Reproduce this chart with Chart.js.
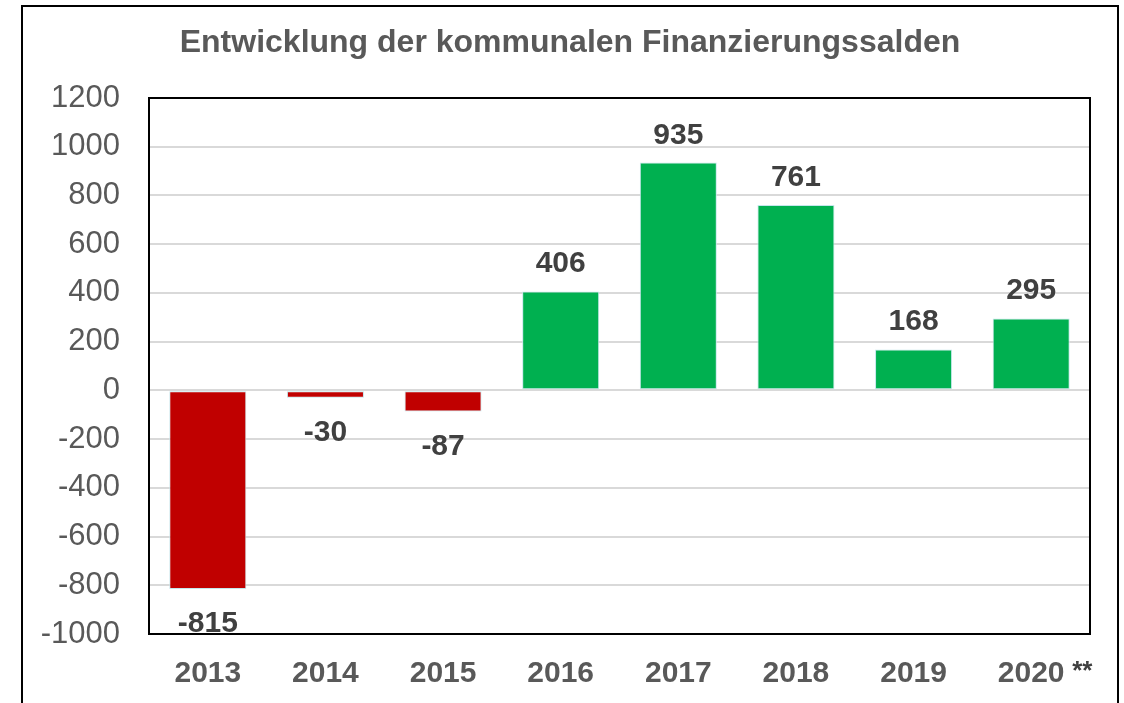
<!DOCTYPE html>
<html lang="de">
<head>
    <meta charset="UTF-8">
    <title>Entwicklung der kommunalen Finanzierungssalden</title>
    <style>
        body {
            margin: 0;
            padding: 0;
            background-color: #fff;
            overflow: hidden;
        }

        .frame {
            position: absolute;
            left: 21px;
            top: 5px;
            width: 1094px;
            height: 800px;
            border: 2px solid #000;
        }

        .chart-box {
            position: absolute;
            left: 0;
            top: 0;
            width: 1124px;
            height: 703px;
        }
    </style>
</head>
<body>
    <div class="frame"></div>
    <div class="chart-box">
        <canvas id="saldenChart" width="1124" height="703"></canvas>
    </div>
    <script src="https://cdn.jsdelivr.net/npm/chart.js"></script>
    <script>
        const years = ['2013', '2014', '2015', '2016', '2017', '2018', '2019', '2020'];
        const salden = [-815, -30, -87, 406, 935, 761, 168, 295];
        const yTicks = [1200, 1000, 800, 600, 400, 200, 0, -200, -400, -600, -800, -1000];
        const footnoteMarks = { '2020': '**' };
        const chartTitle = 'Entwicklung der kommunalen Finanzierungssalden';

        const red = '#C00000';
        const green = '#00B050';
        const textGrey = '#595959';
        const labelDark = '#404040';

        // Titel mittig über dem äußeren Rahmen
        const frameTitle = {
            id: 'frameTitle',
            afterDraw(chart) {
                const { ctx } = chart;
                ctx.save();
                ctx.font = 'bold 32px "Liberation Sans", Arial, sans-serif';
                ctx.fillStyle = textGrey;
                ctx.textAlign = 'center';
                ctx.textBaseline = 'middle';
                ctx.fillText(chartTitle, 570, 43);
                ctx.restore();
            }
        };

        // Rahmen um die Zeichenfläche
        const plotBorder = {
            id: 'plotBorder',
            afterDraw(chart) {
                const { ctx, chartArea } = chart;
                ctx.save();
                ctx.strokeStyle = '#000';
                ctx.lineWidth = 2;
                ctx.strokeRect(chartArea.left, chartArea.top,
                    chartArea.right - chartArea.left, chartArea.bottom - chartArea.top);
                ctx.restore();
            }
        };

        // Werte über / unter den Säulen
        const valueLabels = {
            id: 'valueLabels',
            afterDatasetsDraw(chart) {
                const { ctx } = chart;
                const meta = chart.getDatasetMeta(0);
                ctx.save();
                ctx.font = 'bold 30px "Liberation Sans", Arial, sans-serif';
                ctx.fillStyle = labelDark;
                ctx.textAlign = 'center';
                ctx.textBaseline = 'alphabetic';
                meta.data.forEach((bar, i) => {
                    const v = salden[i];
                    const y = v >= 0 ? bar.y - 19 : bar.y + 43;
                    ctx.fillText(String(v), bar.x, y);
                });
                ctx.restore();
            }
        };

        // Fußnotenzeichen hinter der Jahreszahl
        const footnotes = {
            id: 'footnotes',
            afterDraw(chart) {
                const { ctx } = chart;
                const xScale = chart.scales.x;
                ctx.save();
                ctx.font = 'bold 26px "Liberation Sans", Arial, sans-serif';
                ctx.fillStyle = labelDark;
                ctx.textAlign = 'left';
                ctx.textBaseline = 'alphabetic';
                years.forEach((yr, i) => {
                    if (footnoteMarks[yr]) {
                        const x = xScale.getPixelForTick(i);
                        ctx.fillText(footnoteMarks[yr], x + 41, xScale.top + 45);
                    }
                });
                ctx.restore();
            }
        };

        const ctx = document.getElementById('saldenChart').getContext('2d');
        new Chart(ctx, {
            type: 'bar',
            data: {
                labels: years,
                datasets: [{
                    data: salden,
                    backgroundColor: salden.map(v => v < 0 ? red : green),
                    borderColor: '#C5E6EC',
                    borderWidth: 1,
                    borderSkipped: false,
                    barPercentage: 0.655,
                    categoryPercentage: 1
                }]
            },
            options: {
                responsive: false,
                animation: false,
                layout: {
                    padding: { left: 0, right: 34, top: 98, bottom: -11 }
                },
                plugins: {
                    legend: { display: false },
                    tooltip: { enabled: false },
                    title: { display: false }
                },
                scales: {
                    x: {
                        grid: { display: false, drawTicks: false },
                        border: { display: false },
                        ticks: {
                            color: textGrey,
                            padding: 22,
                            font: { family: '"Liberation Sans", Arial, sans-serif', size: 30, weight: 'bold' }
                        }
                    },
                    y: {
                        min: -1000,
                        max: 1200,
                        afterBuildTicks(scale) {
                            scale.ticks = yTicks.map(v => ({ value: v }));
                        },
                        afterFit(scale) {
                            scale.width = 149;
                        },
                        grid: { color: '#D9D9D9', lineWidth: 2, drawTicks: false },
                        border: { display: false },
                        ticks: {
                            color: textGrey,
                            padding: 29,
                            callback: v => String(v),
                            font: { family: '"Liberation Sans", Arial, sans-serif', size: 31 }
                        }
                    }
                }
            },
            plugins: [frameTitle, plotBorder, valueLabels, footnotes]
        });
    </script>
</body>
</html>
